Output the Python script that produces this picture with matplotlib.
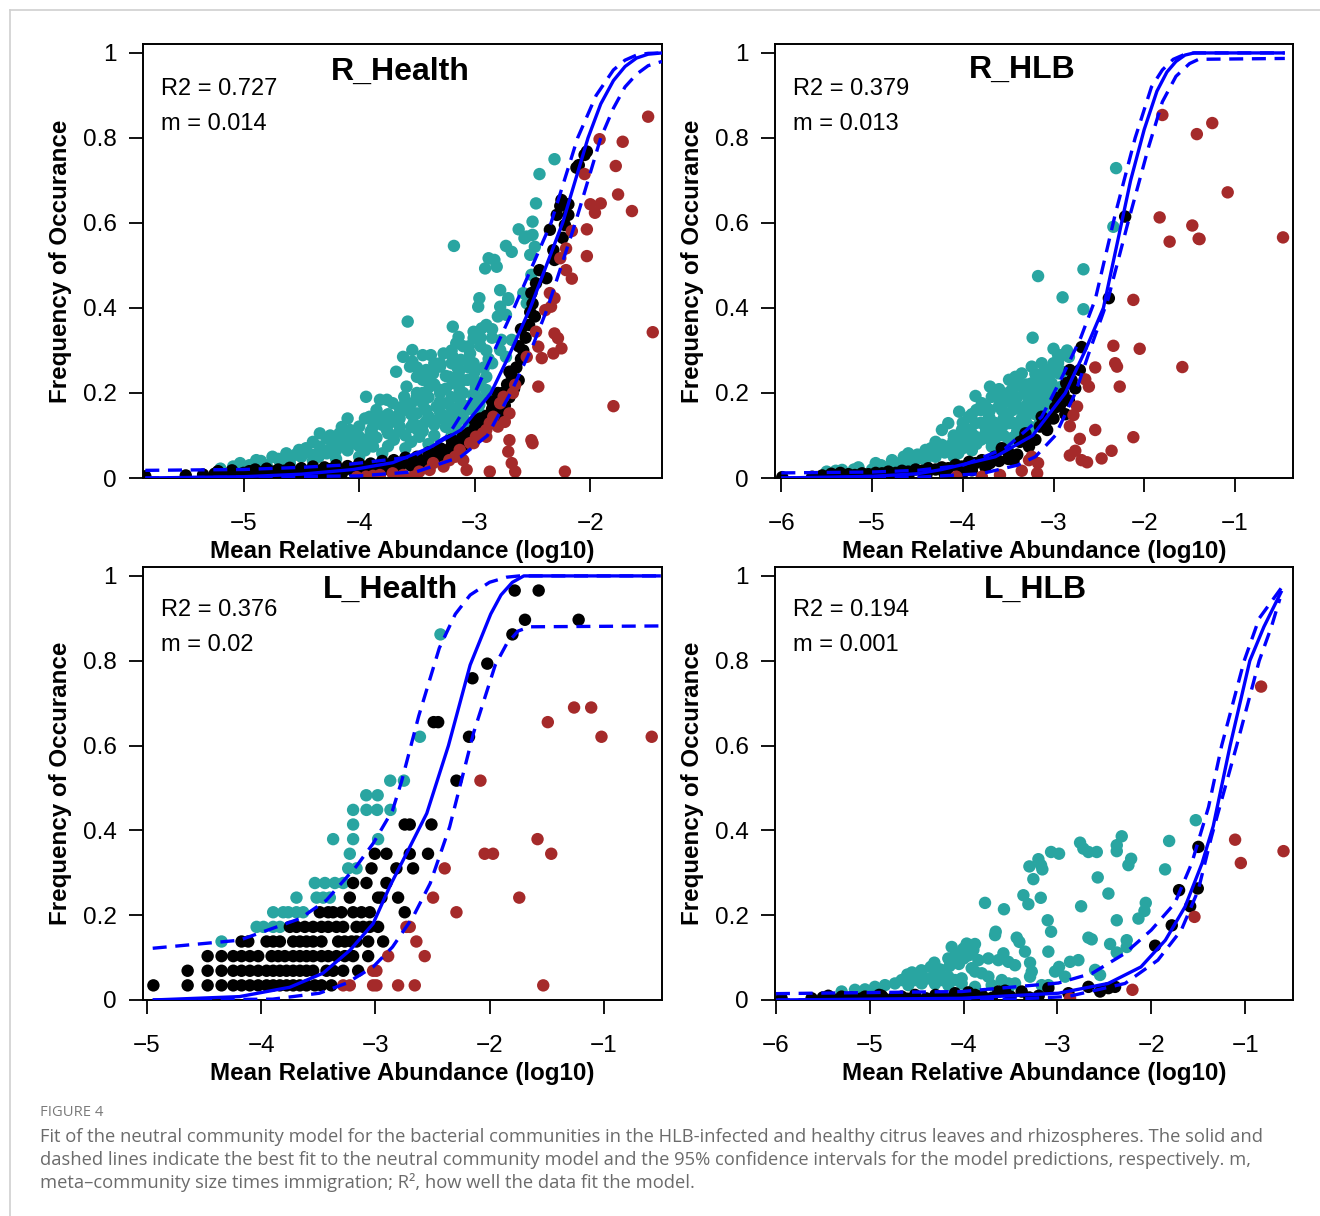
import matplotlib
matplotlib.use("Agg")
import matplotlib.pyplot as plt
from matplotlib.lines import Line2D

plt.rcParams['font.family'] = ['Liberation Sans', 'DejaVu Sans']

TEAL = '#29A5A1'
RED = '#A52A2A'
BLUE = '#0000FF'

# ---------------- R_Health ----------------
rh_stats = ("R2 = 0.727", "m = 0.014")
rh_red = [(-1.50,0.85),(-1.92,0.797),(-1.72,0.791),(-1.78,0.734),(-1.76,0.667),(-1.64,0.628),(-2.00,0.644),(-1.91,0.646),
          (-1.96,0.624),(-2.05,0.715),(-2.03,0.585),(-2.16,0.581),(-2.03,0.522),(-2.21,0.54),(-2.26,0.517),(-2.21,0.489),
          (-2.16,0.469),(-2.35,0.435),(-1.46,0.343),(-1.80,0.169),(-2.31,0.423),(-2.34,0.403),(-2.39,0.395),(-2.31,0.34),
          (-2.28,0.329),(-2.32,0.293),(-2.25,0.305),(-2.47,0.344),(-2.45,0.309),(-2.55,0.285),(-2.42,0.282),(-2.45,0.215),
          (-2.65,0.219),(-2.67,0.20),(-2.75,0.191),(-2.78,0.176),(-2.70,0.152),(-2.74,0.132),(-2.84,0.144),(-2.87,0.129),
          (-2.80,0.121),(-2.90,0.113),(-2.51,0.089),(-2.50,0.082),(-2.70,0.089),(-2.71,0.062),(-2.68,0.035),(-2.65,0.015),
          (-2.22,0.015),(-2.87,0.015),(-2.93,0.105),(-3.01,0.082),(-2.99,0.097),(-2.90,0.097),(-3.04,0.082),(-3.13,0.066),
          (-3.17,0.05),(-3.10,0.042),(-3.07,0.019),(-3.22,0.042),(-3.27,0.027),(-3.36,0.035),(-3.39,0.019),(-3.48,0.015),
          (-3.53,0.003),(-3.62,0.007),(-3.71,0.011),(-3.82,0.007),(-3.88,0.005),(-3.94,0.003),(-4.02,0.002)]
rh_black = [(-5.85,0.004),(-5.50,0.006),(-5.35,0.008),(-5.25,0.01),(-5.22,0.016),(-5.15,0.008),(-5.10,0.014),(-5.05,0.006),
            (-5.00,0.012),(-4.95,0.016),(-4.90,0.008),(-4.85,0.013),(-4.80,0.006),(-4.75,0.015),(-4.70,0.009),(-4.65,0.017),
            (-4.60,0.01),(-4.55,0.006),(-4.50,0.016),(-4.45,0.01),(-4.40,0.019),(-4.35,0.012),(-4.30,0.008),(-4.25,0.021),
            (-4.20,0.014),(-4.15,0.01),(-4.10,0.023),(-4.05,0.016),(-4.00,0.012),(-3.95,0.026),(-3.90,0.018),(-3.85,0.014),
            (-3.80,0.029),(-3.75,0.021),(-3.70,0.033),(-3.65,0.025),(-3.60,0.037),(-3.55,0.029),(-3.50,0.043),(-3.45,0.035),
            (-3.40,0.051),(-3.38,0.041),(-3.35,0.058),(-3.30,0.047),(-3.28,0.067),(-3.25,0.055),(-3.20,0.076),(-3.18,0.063),
            (-3.15,0.086),(-3.12,0.071),(-3.10,0.096),(-3.08,0.08),(-3.05,0.106),(-3.02,0.09),(-3.00,0.117),(-2.98,0.10),
            (-2.95,0.131),(-2.92,0.113),(-2.90,0.146),(-2.88,0.126),(-2.85,0.162),(-2.83,0.14),(-2.80,0.18),(-2.78,0.156),
            (-2.76,0.20),(-2.74,0.17),(-2.72,0.22),(-2.70,0.19),(-2.68,0.24),(-2.66,0.21),(-2.64,0.26),(-2.62,0.23),
            (-2.60,0.28),(-2.58,0.30),(-2.62,0.31),(-2.56,0.33),(-2.60,0.35),(-2.53,0.36),(-2.52,0.39),(-2.50,0.41),
            (-2.48,0.38),(-2.03,0.768),(-2.10,0.736),(-2.25,0.654),(-2.19,0.644),(-2.26,0.64),(-2.29,0.619),(-2.19,0.619),
            (-2.22,0.595),(-2.35,0.584),(-2.24,0.565),(-2.32,0.536),(-2.31,0.513),(-2.44,0.489),(-2.38,0.47),(-2.47,0.458),
            (-2.51,0.435),(-2.05,0.76),(-2.12,0.73),(-4.8,0.022),(-4.6,0.024),(-4.4,0.027),(-4.2,0.03),(-4.0,0.034),
            (-3.8,0.04),(-3.6,0.048),(-3.4,0.06),(-3.2,0.09),(-3.0,0.135),(-2.85,0.18),(-4.7,0.02),(-4.5,0.023),
            (-4.3,0.025),(-4.1,0.028),(-3.9,0.034),(-3.7,0.042),(-3.5,0.05),(-3.3,0.07),(-3.1,0.1),(-2.95,0.14),
            (-2.8,0.2),(-2.7,0.25),(-4.9,0.02),(-5.1,0.018)]
rh_teal = [(-2.31,0.75),(-2.44,0.715),(-2.47,0.646),(-2.50,0.603),(-2.62,0.585),(-2.57,0.564),(-2.50,0.572),(-3.18,0.546),
           (-2.73,0.546),(-2.68,0.532),(-2.48,0.544),(-2.52,0.525),(-2.88,0.517),(-2.83,0.513),(-2.91,0.493),(-2.81,0.497),
           (-2.51,0.478),(-2.78,0.442),(-2.96,0.423),(-2.71,0.423),(-2.58,0.435),(-2.55,0.568),(-2.97,0.403),(-2.78,0.403),
           (-2.71,0.419),(-2.73,0.384),(-2.55,0.411),(-3.58,0.368),(-3.19,0.356),(-3.14,0.332),(-3.16,0.317),(-3.01,0.344),
           (-3.01,0.329),(-2.94,0.352),(-2.77,0.325),(-2.78,0.301),(-2.68,0.325),(-2.73,0.285),(-3.62,0.285),(-3.54,0.301),
           (-3.45,0.289),(-3.38,0.289),(-3.68,0.25),(-3.54,0.274),(-3.56,0.262),(-3.27,0.293),(-3.19,0.285),(-3.12,0.278),
           (-3.04,0.293),(-3.01,0.27),(-3.13,0.254),(-3.22,0.238),(-3.30,0.262),(-3.36,0.246),(-3.42,0.254),(-3.45,0.231),
           (-3.50,0.238),(-3.94,0.191),(-3.82,0.184),(-3.76,0.184),(-3.71,0.176),(-3.59,0.215),(-3.61,0.191),(-3.50,0.191),
           (-3.45,0.176),(-3.39,0.215),(-3.30,0.207),(-3.19,0.223),(-3.13,0.207),(-3.06,0.231),(-2.99,0.215),(-2.90,0.238),
           (-4.34,0.105),(-4.28,0.093),(-4.17,0.105),(-4.10,0.14),(-4.08,0.113),(-4.00,0.121),(-3.91,0.144),(-3.88,0.121),
           (-3.79,0.144),(-3.74,0.129),(-3.68,0.144),(-3.59,0.16),(-3.50,0.152),(-3.42,0.16),(-3.33,0.168),(-3.24,0.176),
           (-3.13,0.184),(-3.01,0.191),(-2.90,0.207),(-5.03,0.035),(-4.89,0.042),(-4.75,0.05),(-4.63,0.058),(-4.52,0.066),
           (-4.46,0.07),(-4.34,0.074),(-4.23,0.082),(-4.11,0.089),(-4.00,0.097),(-3.88,0.101),(-3.76,0.113),(-3.65,0.121),
           (-3.53,0.129),(-3.42,0.133),(-3.30,0.14),(-3.19,0.148),(-3.07,0.16),(-2.96,0.172),(-2.84,0.188),(-5.09,0.027),
           (-4.69,0.042),(-4.28,0.058),(-3.88,0.074),(-3.48,0.097),(-3.16,0.129),(-5.2,0.022),(-5.0,0.025),(-4.8,0.03),
           (-4.6,0.035),(-4.4,0.04),(-4.2,0.045),(-4.0,0.05),(-3.8,0.058),(-3.6,0.07),(-3.4,0.08),(-3.2,0.1),(-3.05,0.125),
           (-2.95,0.15),(-4.0,0.075),(-3.7,0.09),(-3.45,0.11),(-3.25,0.12),(-3.6,0.1),(-3.3,0.2),(-3.0,0.25),(-2.85,0.27),
           (-2.9,0.3),(-4.9,0.035),(-4.7,0.045),(-4.5,0.05),(-4.3,0.06),(-4.1,0.065),(-3.9,0.085),(-3.7,0.1),(-3.5,0.115),
           (-3.35,0.125),(-3.2,0.13),(-3.1,0.14),(-4.4,0.085),(-4.2,0.09),(-4.05,0.1),(-3.9,0.11),(-3.8,0.125),(-3.65,0.14),
           (-3.55,0.15),(-3.4,0.145),(-3.3,0.155),(-3.2,0.165),(-3.1,0.17),(-3.6,0.18),(-3.5,0.2),(-3.4,0.19),(-3.3,0.18),
           (-3.2,0.19),(-3.1,0.2),(-3.0,0.2),(-3.0,0.16),(-2.95,0.22),(-3.25,0.21),(-3.15,0.24),(-3.05,0.26),(-3.2,0.27),
           (-3.35,0.27),(-3.1,0.31),(-2.95,0.31),(-2.85,0.33),(-2.9,0.36),(-2.8,0.38),(-4.6,0.045),(-4.4,0.055),(-4.2,0.065),
           (-3.95,0.065),(-3.75,0.075),(-3.55,0.085),(-3.35,0.1),(-3.15,0.11),(-4.95,0.03),(-4.85,0.04),(-4.65,0.04),
           (-4.55,0.055),(-4.45,0.06),(-4.35,0.05),(-4.25,0.068),(-4.15,0.075),(-4.05,0.082),(-3.95,0.09),(-3.85,0.095),
           (-3.75,0.105),(-3.65,0.11),(-3.55,0.12),(-3.45,0.125),(-3.35,0.135),(-3.25,0.145),(-3.15,0.155),(-3.05,0.17),
           (-2.95,0.185),(-3.85,0.16),(-3.75,0.15),(-3.65,0.165),(-3.55,0.175),(-3.45,0.2),(-3.35,0.22),(-3.25,0.24),
           (-3.15,0.26),(-3.05,0.28),(-3.1,0.23),(-3.0,0.23),(-2.92,0.26),(-2.88,0.28),(-3.4,0.24),(-3.5,0.26),(-3.3,0.27),
           (-3.2,0.3),(-2.95,0.33),(-2.85,0.35),(-3.05,0.31),(-4.15,0.12),(-4.25,0.1),(-3.95,0.14),(-3.85,0.135)]
rh_fit_x = [-5.85,-5.0,-4.5,-4.05,-3.71,-3.4,-3.12,-2.86,-2.7,-2.52,-2.38,-2.24,-2.02,-1.91,-1.8,-1.7,-1.6,-1.5,-1.38]
rh_fit_y = [0.0,0.003,0.009,0.02,0.036,0.07,0.113,0.2,0.29,0.4,0.5,0.6,0.8,0.88,0.935,0.968,0.988,0.997,1.0]
rh_up_x = [-5.85,-5.0,-4.5,-4.16,-3.53,-3.23,-3.0,-2.66,-2.34,-2.11,-1.95,-1.8,-1.7,-1.6,-1.5,-1.38]
rh_up_y = [0.018,0.02,0.025,0.03,0.05,0.1,0.2,0.4,0.6,0.8,0.9,0.96,0.983,0.995,0.999,1.0]
rh_lo_x = [-5.85,-4.0,-3.5,-3.12,-2.89,-2.69,-2.5,-2.37,-2.13,-1.91,-1.8,-1.7,-1.6,-1.5,-1.38]
rh_lo_y = [0.0,0.005,0.015,0.05,0.1,0.2,0.31,0.4,0.6,0.8,0.87,0.92,0.95,0.97,0.98]

# ---------------- R_HLB ----------------
rhlb_stats = ("R2 = 0.379", "m = 0.013")
rhlb_red = [(-1.80,0.854),(-1.42,0.809),(-1.25,0.835),(-1.08,0.672),(-1.83,0.613),(-1.47,0.594),(-1.39,0.562),(-1.72,0.556),
            (-0.47,0.566),(-1.40,0.563),(-2.12,0.419),(-2.34,0.311),(-2.05,0.304),(-1.58,0.261),(-2.32,0.27),(-2.30,0.262),
            (-2.54,0.26),(-2.27,0.215),(-2.61,0.215),(-2.65,0.232),(-2.74,0.168),(-2.78,0.148),(-2.82,0.122),(-2.54,0.113),
            (-2.12,0.096),(-2.71,0.092),(-2.76,0.064),(-2.82,0.053),(-2.36,0.064),(-2.47,0.046),(-2.69,0.042),(-2.63,0.037),
            (-3.17,0.035),(-3.24,0.05),(-3.27,0.042),(-3.35,0.017),(-3.18,0.011),(-3.59,0.007),(-3.79,0.003),(-4.07,0.003)]
rhlb_black = [(-2.21,0.615),(-2.39,0.423),(-2.69,0.308),(-2.82,0.254),(-2.71,0.254),(-2.86,0.223),(-2.76,0.211),(-2.89,0.199),
              (-2.83,0.182),(-2.96,0.188),(-2.87,0.15),(-2.98,0.166),(-3.13,0.144),(-3.09,0.129),(-3.07,0.113),(-3.15,0.121),
              (-3.31,0.105),(-3.37,0.085),(-3.27,0.074),(-3.44,0.042),(-3.50,0.062),(-3.57,0.07),(-3.79,0.042),(-3.86,0.035),
              (-3.93,0.038),(-4.01,0.027),(-4.08,0.031),(-4.16,0.023),(-4.23,0.025),(-4.30,0.02),(-4.38,0.023),(-4.45,0.017),
              (-4.52,0.02),(-4.60,0.015),(-4.67,0.017),(-4.74,0.012),(-4.82,0.015),(-4.89,0.011),(-4.96,0.012),(-5.04,0.009),
              (-5.11,0.011),(-5.19,0.007),(-5.26,0.009),(-5.33,0.005),(-5.41,0.006),(-5.48,0.003),(-5.66,0.003),(-5.99,0.002),
              (-3.65,0.05),(-3.7,0.035),(-3.75,0.025),(-3.6,0.04),(-3.4,0.055),(-3.2,0.09),(-4.0,0.012),(-4.2,0.01),
              (-4.4,0.008),(-4.6,0.005),(-4.8,0.004),(-5.0,0.003),(-3.9,0.018),(-3.5,0.045),(-3.33,0.09),(-3.0,0.14),
              (-2.93,0.17),(-2.8,0.23),(-5.45,0.01),(-5.55,0.006),(-5.35,0.012)]
rhlb_teal = [(-2.31,0.729),(-2.34,0.591),(-3.17,0.475),(-2.67,0.491),(-2.90,0.425),(-2.67,0.397),(-3.23,0.33),(-3.00,0.304),
             (-2.94,0.282),(-2.83,0.285),(-2.87,0.293),(-3.86,0.193),(-3.70,0.215),(-3.60,0.209),(-3.49,0.231),(-3.42,0.238),
             (-3.35,0.246),(-3.24,0.262),(-3.13,0.27),(-3.05,0.254),(-2.94,0.246),(-4.04,0.156),(-3.93,0.144),(-3.79,0.176),
             (-3.68,0.191),(-3.57,0.199),(-3.46,0.207),(-3.35,0.215),(-3.24,0.223),(-3.13,0.231),(-3.02,0.223),(-2.91,0.215),
             (-4.23,0.113),(-4.16,0.129),(-4.01,0.113),(-3.86,0.129),(-3.71,0.144),(-3.57,0.16),(-3.42,0.176),(-3.27,0.184),
             (-3.13,0.191),(-4.96,0.035),(-4.78,0.042),(-4.60,0.058),(-4.41,0.066),(-4.23,0.078),(-4.05,0.089),(-3.86,0.097),
             (-3.68,0.113),(-3.49,0.129),(-3.31,0.144),(-3.17,0.156),(-3.05,0.184),(-5.33,0.019),(-5.15,0.025),(-4.78,0.031),
             (-4.41,0.042),(-4.05,0.058),(-3.68,0.074),(-3.49,0.089),(-5.5,0.015),(-5.0,0.02),(-4.6,0.03),(-4.3,0.05),
             (-4.1,0.07),(-3.95,0.08),(-3.8,0.09),(-3.6,0.1),(-3.4,0.11),(-3.25,0.12),(-3.1,0.15),(-3.0,0.2),(-2.9,0.25),
             (-3.3,0.17),(-3.55,0.14),(-3.75,0.12),(-3.95,0.1),(-4.1,0.09),(-3.2,0.2),(-3.4,0.19),(-3.6,0.17),(-3.8,0.16),
             (-3.0,0.27),(-2.85,0.3),(-4.8,0.025),(-4.6,0.04),(-4.4,0.05),(-4.2,0.06),(-4.0,0.07),(-3.85,0.08),(-3.7,0.09),
             (-3.55,0.1),(-3.4,0.12),(-3.3,0.13),(-3.2,0.15),(-3.1,0.17),(-4.3,0.085),(-4.1,0.1),(-3.95,0.115),(-3.8,0.13),
             (-3.65,0.13),(-3.5,0.15),(-3.35,0.16),(-3.2,0.17),(-3.05,0.2),(-3.7,0.16),(-3.5,0.18),(-3.3,0.2),(-3.15,0.21),
             (-3.4,0.23),(-3.2,0.245),(-3.05,0.24),(-2.95,0.27),(-3.65,0.2),(-3.9,0.15),(-4.5,0.055),(-4.65,0.05),(-4.35,0.07),
             (-4.9,0.03),(-4.7,0.035),(-4.5,0.045),(-4.3,0.06),(-4.15,0.075),(-4.0,0.09),(-3.9,0.105),(-3.75,0.105),
             (-3.6,0.115),(-3.45,0.13),(-3.35,0.14),(-3.25,0.16),(-3.15,0.175),(-3.1,0.19),(-3.2,0.19),(-3.5,0.2),(-3.6,0.19),
             (-3.75,0.17),(-3.85,0.16),(-4.0,0.13),(-3.45,0.16),(-3.55,0.125),(-3.1,0.21),(-3.3,0.22),(-3.1,0.25),(-2.95,0.29),
             (-3.0,0.18),(-3.65,0.08),(-3.9,0.065),(-4.1,0.05),(-3.45,0.095),(-3.3,0.11),(-3.15,0.13),(-5.2,0.02),(-5.4,0.017)]
rhlb_fit_x = [-6.0,-5.0,-4.5,-4.23,-3.64,-3.23,-2.87,-2.65,-2.45,-2.3,-2.15,-2.0,-1.86,-1.75,-1.65,-1.55,-1.45,-0.45]
rhlb_fit_y = [0.0,0.004,0.01,0.02,0.05,0.1,0.2,0.3,0.4,0.55,0.7,0.82,0.91,0.955,0.98,0.995,1.0,1.0]
rhlb_up_x = [-6.0,-5.0,-4.5,-4.0,-3.53,-3.13,-2.9,-2.7,-2.54,-2.32,-2.1,-1.92,-1.8,-1.68,-1.55,-1.45,-0.45]
rhlb_up_y = [0.012,0.014,0.018,0.03,0.07,0.144,0.24,0.33,0.42,0.62,0.8,0.92,0.96,0.985,0.997,1.0,1.0]
rhlb_lo_x = [-6.0,-4.5,-3.8,-3.4,-3.2,-2.98,-2.76,-2.6,-2.4,-2.18,-1.95,-1.8,-1.65,-1.5,-1.4,-0.45]
rhlb_lo_y = [0.0,0.002,0.01,0.03,0.05,0.1,0.2,0.3,0.42,0.6,0.78,0.885,0.945,0.975,0.985,0.987]

# ---------------- L_Health (occurrence in steps of 1/29) ----------------
lh_stats = ("R2 = 0.376", "m = 0.02")
lh_black_rows = {
    1: [-4.944,-4.644,-4.469,-4.347,-4.245,-4.172,-4.099,-4.026,-3.953,-3.895,-3.836,-3.778,-3.720,-3.661,-3.603,-3.530,-3.472,-3.385],
    2: [-4.644,-4.469,-4.347,-4.245,-4.172,-4.099,-4.026,-3.953,-3.895,-3.836,-3.778,-3.720,-3.661,-3.603,-3.545,-3.428,-3.370,-3.282,-3.151],
    3: [-4.469,-4.347,-4.245,-4.172,-4.099,-4.026,-3.909,-3.851,-3.793,-3.720,-3.661,-3.603,-3.545,-3.472,-3.413,-3.341,-3.268,-3.195,-3.063],
    4: [-4.172,-4.113,-3.953,-3.895,-3.836,-3.720,-3.661,-3.603,-3.545,-3.472,-3.326,-3.268,-3.209,-3.165,-3.063,-2.932],
    5: [-3.749,-3.691,-3.618,-3.545,-3.472,-3.413,-3.341,-3.282,-3.165,-3.107,-3.049,-2.976],
    6: [-3.487,-3.413,-3.370,-3.297,-3.195,-3.122,-3.049,-2.743],
    7: [-3.224,-2.976,-2.947,-2.801],
    8: [-3.195,-3.078,-2.903],
    9: [-3.034,-2.816,-2.670],
    10: [-3.005,-2.903,-2.699,-2.539],
    12: [-2.743,-2.699,-2.509],
    15: [-2.29],
    18: [-2.18],
    19: [-2.49,-2.45],
    22: [-2.15],
    23: [-2.02],
    25: [-1.80],
    26: [-1.69,-1.22],
    28: [-1.78,-1.57],
}
lh_teal_rows = {
    4: [-4.347],
    5: [-4.04,-3.98,-3.895,-3.836],
    6: [-3.895,-3.807,-3.763,-3.691,-3.632],
    7: [-3.691,-3.515,-3.457,-3.399],
    8: [-3.530,-3.442,-3.355,-3.282],
    9: [-3.238,-3.165],
    10: [-3.224],
    11: [-3.370,-3.195,-2.976],
    12: [-3.195],
    13: [-3.195,-3.078,-2.985,-2.868],
    14: [-3.08,-2.98],
    15: [-2.87,-2.75],
    18: [-2.61],
    25: [-2.43],
}
lh_red_rows = {
    1: [-3.282,-3.224,-3.020,-2.991,-2.801,-2.655,-1.53],
    2: [-3.020,-2.991],
    3: [-2.888,-2.568],
    4: [-2.641],
    5: [-2.728,-2.699],
    6: [-2.29],
    7: [-2.495,-1.74],
    9: [-2.393],
    10: [-2.043,-1.970,-1.46],
    11: [-1.58],
    15: [-2.08],
    18: [-1.02,-0.58],
    19: [-1.49],
    20: [-1.26,-1.11],
}
lh_nsamples = 29
lh_fit_x = [-4.95,-4.19,-3.75,-3.46,-3.22,-3.02,-2.87,-2.7,-2.55,-2.36,-2.17,-1.99,-1.9,-1.8,-1.7,-0.5]
lh_fit_y = [0.0,0.008,0.03,0.063,0.118,0.18,0.27,0.36,0.44,0.6,0.79,0.91,0.955,0.985,1.0,1.0]
lh_up_x = [-4.95,-4.19,-3.66,-3.43,-3.17,-3.02,-2.85,-2.77,-2.62,-2.44,-2.3,-2.17,-2.0,-1.85,-1.74,-0.5]
lh_up_y = [0.122,0.141,0.192,0.235,0.314,0.369,0.447,0.516,0.67,0.83,0.91,0.955,0.985,0.997,1.0,1.0]
lh_lo_x = [-4.95,-3.9,-3.49,-3.25,-3.02,-2.85,-2.67,-2.52,-2.35,-2.14,-1.95,-1.85,-1.75,-1.65,-0.5]
lh_lo_y = [0.0,0.002,0.016,0.04,0.078,0.125,0.196,0.275,0.408,0.63,0.79,0.84,0.87,0.88,0.882]

# ---------------- L_HLB ----------------
lhlb_stats = ("R2 = 0.194", "m = 0.001")
lhlb_teal = [(-1.526,0.424),(-1.81,0.375),(-2.315,0.386),(-2.368,0.365),(-2.368,0.351),(-2.215,0.333),(-2.244,0.318),
             (-2.759,0.371),(-2.724,0.357),(-2.670,0.349),(-2.581,0.349),(-3.068,0.349),(-2.983,0.345),(-3.203,0.332),
             (-3.175,0.318),(-3.161,0.308),(-3.299,0.315),(-3.257,0.285),(-2.571,0.289),(-1.853,0.308),(-2.457,0.251),
             (-3.363,0.247),(-3.310,0.226),(-3.178,0.241),(-2.748,0.221),(-3.772,0.229),(-3.570,0.214),(-2.059,0.229),
             (-2.073,0.21),(-2.137,0.192),(-2.368,0.188),(-3.104,0.188),(-3.068,0.161),(-3.658,0.161),(-3.665,0.153),
             (-2.670,0.147),(-2.635,0.143),(-2.262,0.141),(-2.262,0.125),(-2.439,0.132),(-2.368,0.112),(-3.097,0.114),
             (-3.434,0.147),(-3.406,0.137),(-3.346,0.114),(-3.967,0.133),(-3.879,0.132),(-3.896,0.118),(-4.003,0.121),
             (-4.127,0.125),(-4.312,0.088),(-4.163,0.098),(-4.092,0.102),(-4.039,0.11),(-3.843,0.094),(-3.736,0.098),
             (-3.630,0.094),(-3.576,0.11),(-3.523,0.09),(-3.452,0.082),(-3.292,0.088),(-3.274,0.067),(-3.292,0.055),
             (-2.866,0.09),(-2.777,0.094),(-2.983,0.078),(-3.026,0.067),(-2.919,0.055),(-2.599,0.071),(-2.546,0.059),
             (-3.914,0.075),(-3.879,0.067),(-3.807,0.063),(-3.736,0.055),(-3.594,0.047),(-3.523,0.039),(-3.452,0.039),
             (-3.168,0.035),(-3.097,0.035),(-4.660,0.047),(-4.589,0.055),(-4.518,0.047),(-4.447,0.059),(-4.376,0.051),
             (-4.305,0.055),(-4.234,0.047),(-4.163,0.055),(-4.092,0.047),(-4.021,0.051),(-4.945,0.031),(-4.838,0.035),
             (-4.732,0.039),(-4.589,0.035),(-4.447,0.039),(-4.305,0.038),(-4.163,0.035),(-4.021,0.039),(-3.879,0.031),
             (-3.701,0.035),(-3.523,0.027),(-5.300,0.02),(-5.158,0.024),(-5.051,0.025),(-4.45,0.07),(-4.35,0.078),
             (-4.25,0.072),(-4.55,0.065),(-4.15,0.08),(-4.05,0.085),(-4.6,0.06),(-4.0,0.098),(-3.95,0.105)]
lhlb_black = [(-1.498,0.361),(-1.704,0.259),(-1.505,0.263),(-1.586,0.221),(-1.782,0.176),(-1.959,0.128),(-2.386,0.031),
              (-2.457,0.028),(-2.546,0.02),(-2.67,0.031),(-2.883,0.016),(-3.097,0.028),(-3.381,0.02),(-3.559,0.022),
              (-3.630,0.02),(-3.879,0.012),(-4.092,0.016),(-4.305,0.008),(-4.518,0.012),(-4.660,0.008),(-4.873,0.01),
              (-5.051,0.008),(-5.193,0.006),(-5.300,0.008),(-5.442,0.01),(-5.620,0.004),(-5.940,0.004),(-3.2,0.01),
              (-3.3,0.006),(-3.5,0.008),(-3.7,0.005),(-3.8,0.01),(-4.0,0.006),(-4.2,0.005),(-4.4,0.004),(-4.6,0.003),
              (-4.75,0.005),(-4.95,0.004),(-5.1,0.003),(-5.25,0.004),(-5.4,0.003),(-5.5,0.006),(-4.3,0.012),(-4.9,0.012),
              (-3.95,0.018),(-4.85,0.004)]
lhlb_red = [(-1.107,0.378),(-0.591,0.351),(-1.046,0.323),(-1.540,0.196),(-2.201,0.024),(-2.866,0.004),(-0.83,0.739)]
lhlb_fit_x = [-5.98,-4.02,-2.99,-2.46,-2.11,-1.85,-1.64,-1.46,-1.34,-1.16,-0.95,-0.8,-0.61]
lhlb_fit_y = [0.0,0.004,0.016,0.039,0.078,0.141,0.22,0.322,0.41,0.6,0.8,0.88,0.965]
lhlb_up_x = [-6.0,-4.02,-2.99,-2.63,-2.28,-2.0,-1.75,-1.57,-1.39,-1.25,-1.01,-0.85,-0.6]
lhlb_up_y = [0.015,0.02,0.04,0.063,0.11,0.165,0.228,0.322,0.455,0.6,0.8,0.9,0.976]
lhlb_lo_x = [-6.0,-3.5,-2.89,-2.28,-1.93,-1.68,-1.5,-1.36,-1.09,-0.85,-0.72,-0.63]
lhlb_lo_y = [0.0,0.002,0.008,0.039,0.094,0.165,0.259,0.384,0.6,0.8,0.88,0.946]

xlabel = "Mean Relative Abundance (log10)"
ylabel = "Frequency of Occurance"
ytick_vals = [0, 0.2, 0.4, 0.6, 0.8, 1]
ytick_labels = ['0', '0.2', '0.4', '0.6', '0.8', '1']

W, H = 1320, 1216
fig = plt.figure(figsize=(W / 100, H / 100), dpi=100)


def rows_to_pts(rows, n):
    pts = []
    for k, xs in rows.items():
        for x in xs:
            pts.append((x, k / n))
    return pts


def panel(rect, title, title_pos, stats, teal, black, red, fit, up, lo, xlim, xticks):
    ax = fig.add_axes(rect)
    for pts, col in ((teal, TEAL), (black, 'black'), (red, RED)):
        xs = [p[0] for p in pts]
        ys = [p[1] for p in pts]
        ax.scatter(xs, ys, s=80, color=col, edgecolors='none', zorder=2)
    ax.plot(fit[0], fit[1], color=BLUE, lw=2.4, zorder=3, solid_capstyle='butt')
    for d in (up, lo):
        ax.plot(d[0], d[1], color=BLUE, lw=2.4, dashes=(4.2, 2.6), zorder=3)
    ax.set_xlim(*xlim)
    ax.set_ylim(0, 1.021)
    ax.set_xticks(xticks)
    ax.set_xticklabels([str(t) if t >= 0 else '\u2212' + str(-t) for t in xticks])
    ax.set_yticks(ytick_vals)
    ax.set_yticklabels(ytick_labels)
    ax.tick_params(axis='both', direction='out', length=10, width=1.3, labelsize=17.5)
    ax.tick_params(axis='x', pad=15)
    ax.tick_params(axis='y', pad=9)
    for sp in ax.spines.values():
        sp.set_linewidth(1.4)
    ax.set_xlabel(xlabel, fontsize=17.4, fontweight='bold', labelpad=4)
    ax.set_ylabel(ylabel, fontsize=17.4, fontweight='bold', labelpad=8)
    ax.text(title_pos[0], title_pos[1], title, transform=ax.transAxes, ha='center', va='center',
            fontsize=23, fontweight='bold')
    top = rect[1] > 0.5
    ax.text(0.035, 0.897 if top else 0.90, stats[0], transform=ax.transAxes, ha='left', va='center', fontsize=17)
    ax.text(0.035, 0.816 if top else 0.82, stats[1], transform=ax.transAxes, ha='left', va='center', fontsize=17)
    return ax


def rect(l, t, r, b):
    return [l / W, 1 - b / H, (r - l) / W, (b - t) / H]


panel(rect(143, 44, 662, 478), "R_Health", (0.495, 0.935), rh_stats, rh_teal, rh_black, rh_red,
      (rh_fit_x, rh_fit_y), (rh_up_x, rh_up_y), (rh_lo_x, rh_lo_y), (-5.87, -1.38), [-5, -4, -3, -2])
panel(rect(775, 44, 1293, 478), "R_HLB", (0.477, 0.94), rhlb_stats, rhlb_teal, rhlb_black, rhlb_red,
      (rhlb_fit_x, rhlb_fit_y), (rhlb_up_x, rhlb_up_y), (rhlb_lo_x, rhlb_lo_y), (-6.07, -0.36), [-6, -5, -4, -3, -2, -1])
panel(rect(143, 567, 662, 1000), "L_Health", (0.476, 0.947), lh_stats,
      rows_to_pts(lh_teal_rows, lh_nsamples), rows_to_pts(lh_black_rows, lh_nsamples), rows_to_pts(lh_red_rows, lh_nsamples),
      (lh_fit_x, lh_fit_y), (lh_up_x, lh_up_y), (lh_lo_x, lh_lo_y), (-5.035, -0.49), [-5, -4, -3, -2, -1])
panel(rect(775, 567, 1293, 1000), "L_HLB", (0.502, 0.947), lhlb_stats, lhlb_teal, lhlb_black, lhlb_red,
      (lhlb_fit_x, lhlb_fit_y), (lhlb_up_x, lhlb_up_y), (lhlb_lo_x, lhlb_lo_y), (-6.01, -0.49), [-6, -5, -4, -3, -2, -1])

# card frame
fig.add_artist(Line2D([10 / W, 1.0], [1 - 10 / H, 1 - 10 / H], color='#d0d0d0', lw=1.2))
fig.add_artist(Line2D([10 / W, 10 / W], [0, 1 - 10 / H], color='#d0d0d0', lw=1.2))

# caption
cap_font = ['Open Sans', 'DejaVu Sans']
fig.text(40 / W, 1 - 1112 / H, "FIGURE 4", fontsize=10.6, color='#7a7a7a', va='center', family=cap_font)
caption = [
    "Fit of the neutral community model for the bacterial communities in the HLB-infected and healthy citrus leaves and rhizospheres. The solid and",
    "dashed lines indicate the best fit to the neutral community model and the 95% confidence intervals for the model predictions, respectively. m,",
    "meta\u2013community size times immigration; R\u00b2, how well the data fit the model.",
]
for i, line in enumerate(caption):
    fig.text(40 / W, 1 - (1137 + 23 * i) / H, line, fontsize=13.2, color='#6b6b6b', va='center', family=cap_font)

fig.savefig("out.png", dpi=100)
